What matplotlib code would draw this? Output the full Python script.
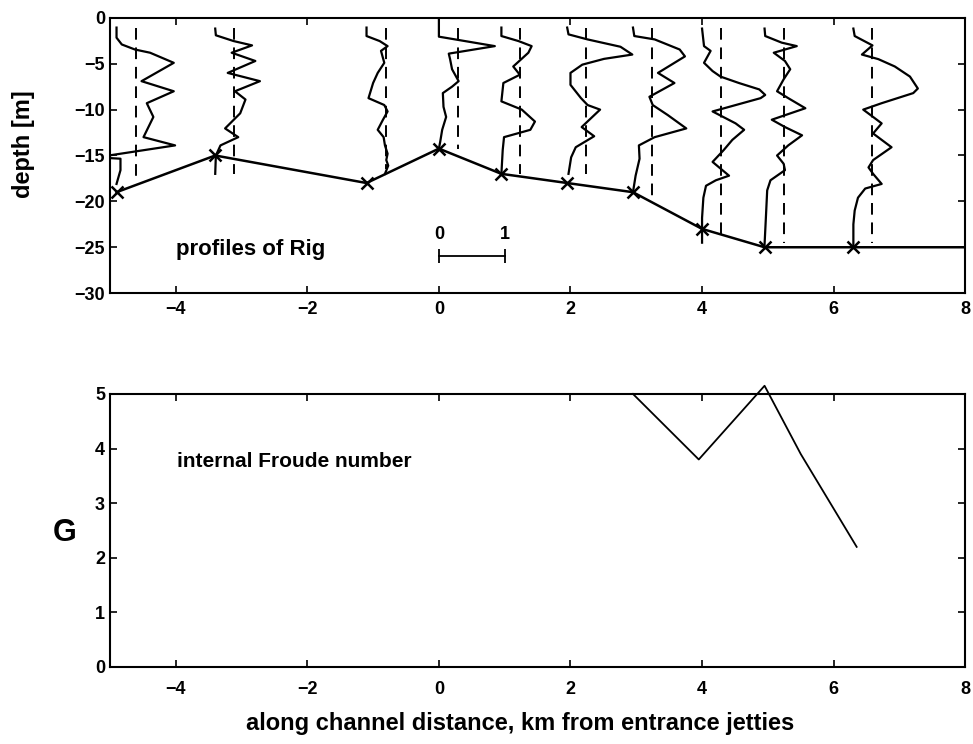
import numpy as np
import matplotlib
matplotlib.use('Agg')
import matplotlib.pyplot as plt

plt.rcParams['font.family'] = ['Liberation Sans', 'DejaVu Sans']
plt.rcParams['font.weight'] = 'bold'
plt.rcParams['axes.labelweight'] = 'bold'

# station positions (km from entrance jetties) and bottom depth (m)
stations = [-4.9, -3.4, -1.1, 0.0, 0.95, 1.95, 2.95, 4.0, 4.95, 6.3]
bottom = [-19, -15, -18, -14.25, -17, -18, -19, -23, -25, -25]
bottom_end_x = 8.0

# Rig profiles: depth (m) and Rig value, one pair per station
z1 = [-1.06, -2.16, -2.9, -3.45, -3.8, -4.9, -6.9, -8.0, -9.3, -10.8, -13.0, -13.9, -15.2, -15.35, -16.6, -18.1]
r1 = [0.0, 0.0, 0.08, 0.28, 0.51, 0.87, 0.38, 0.87, 0.46, 0.56, 0.41, 0.89, -0.3, 0.06, 0.06, 0.0]
z2 = [-1.17, -1.9, -2.53, -3.0, -3.8, -4.7, -6.0, -6.9, -8.0, -8.9, -10.4, -12.05, -13.0, -13.9, -15.0, -17.0]
r2 = [0.0, 0.01, 0.28, 0.56, 0.25, 0.61, 0.19, 0.68, 0.30, 0.46, 0.38, 0.15, 0.35, 0.08, 0.01, 0.0]
z3 = [-1.06, -1.98, -2.53, -3.08, -3.6, -4.9, -6.0, -7.1, -8.75, -9.5, -10.2, -11.1, -12.2, -13.0, -13.9, -14.8, -15.5, -16.1, -17.0]
r3 = [0.0, 0.0, 0.2, 0.32, 0.22, 0.27, 0.17, 0.10, 0.03, 0.27, 0.32, 0.25, 0.17, 0.26, 0.28, 0.32, 0.30, 0.33, 0.28]
z4 = [-0.15, -2.05, -3.08, -3.9, -4.5, -5.6, -6.9, -7.5, -8.2, -9.7, -10.8, -12.2, -13.5, -14.25]
r4 = [0.0, 0.0, 0.85, 0.15, 0.17, 0.2, 0.30, 0.2, 0.06, 0.07, 0.11, 0.05, 0.02, 0.0]
z5 = [-1.06, -1.98, -2.53, -3.08, -3.8, -5.3, -6.2, -7.1, -9.1, -10.0, -11.3, -12.2, -13.0, -14.4, -17.0]
r5 = [0.0, 0.0, 0.26, 0.46, 0.41, 0.18, 0.28, 0.03, 0.0, 0.31, 0.51, 0.44, 0.04, 0.02, 0.0]
z6 = [-1.06, -1.8, -2.35, -3.15, -4.0, -4.47, -5.1, -6.0, -7.3, -8.75, -9.5, -10.0, -11.9, -12.9, -14.1, -15.2, -17.0]
r6 = [0.0, 0.02, 0.31, 0.81, 0.99, 0.56, 0.23, 0.05, 0.05, 0.21, 0.31, 0.50, 0.22, 0.41, 0.13, 0.06, 0.02]
z7 = [-1.06, -1.98, -2.35, -3.45, -4.2, -6.0, -7.1, -8.6, -9.5, -10.6, -12.05, -13.0, -13.9, -15.35, -17.2, -19.0]
r7 = [0.0, 0.02, 0.33, 0.71, 0.79, 0.38, 0.63, 0.25, 0.30, 0.53, 0.81, 0.33, 0.09, 0.10, 0.04, 0.0]
z8 = [-1.17, -3.08, -3.6, -4.9, -5.8, -6.4, -7.1, -7.8, -8.4, -8.75, -10.2, -11.5, -12.2, -13.3, -14.4, -15.7, -16.3, -17.2, -17.7, -18.3, -19.6, -21.8, -24.5]
r8 = [0.0, 0.03, 0.13, 0.03, 0.16, 0.28, 0.56, 0.87, 0.96, 0.89, 0.16, 0.51, 0.64, 0.46, 0.33, 0.16, 0.26, 0.41, 0.21, 0.06, 0.02, 0.0, 0.0]
z9 = [-1.17, -1.98, -2.7, -3.08, -3.8, -4.7, -5.6, -6.7, -8.0, -8.75, -9.85, -11.1, -11.9, -12.8, -13.9, -15.0, -15.9, -16.6, -17.7, -18.8, -21.8, -24.7]
r9 = [0.0, 0.01, 0.26, 0.49, 0.14, 0.31, 0.39, 0.29, 0.19, 0.36, 0.62, 0.11, 0.31, 0.57, 0.36, 0.19, 0.29, 0.31, 0.09, 0.04, 0.02, 0.0]
z10 = [-1.17, -1.98, -3.0, -4.0, -4.5, -5.3, -6.4, -7.7, -8.2, -9.3, -10.0, -10.8, -11.5, -12.6, -14.1, -15.5, -16.3, -17.0, -18.1, -18.6, -19.6, -21.0, -22.5, -25.0]
r10 = [0.0, 0.02, 0.29, 0.13, 0.38, 0.63, 0.86, 0.98, 0.91, 0.43, 0.15, 0.30, 0.43, 0.30, 0.58, 0.30, 0.23, 0.30, 0.43, 0.18, 0.07, 0.02, 0.0, 0.0]

depths = [z1, z2, z3, z4, z5, z6, z7, z8, z9, z10]
rigs = [r1, r2, r3, r4, r5, r6, r7, r8, r9, r10]

# dashed reference line (Rig offset) and its vertical extent
rig_ref = 0.29
ref_top = -1.1
ref_bottom = [-17.7, -17.0, -16.5, -14.3, -17.0, -17.0, -19.6, -24.2, -24.5, -24.5]

# internal Froude number
g_x = [2.95, 3.95, 4.95, 5.5, 6.35]
g_val = [5.0, 3.8, 5.15, 3.9, 2.2]

fig = plt.figure(figsize=(9.73, 7.44), dpi=100)
ax1 = fig.add_axes([0.113, 0.606, 0.879, 0.370])
ax2 = fig.add_axes([0.113, 0.1035, 0.879, 0.367])

for ax in (ax1, ax2):
    ax.tick_params(direction='in', top=True, right=True, length=5, width=1.2,
                   labelsize=13)
    for s in ax.spines.values():
        s.set_linewidth(1.5)
    ax.set_xlim(-5, 8)
    ax.set_xticks([-4, -2, 0, 2, 4, 6, 8])
ax1.tick_params(axis='x', pad=6)
ax2.tick_params(axis='x', pad=10)

# top panel
for x0, z, r, zb in zip(stations, depths, rigs, ref_bottom):
    ax1.plot(x0 + np.array(r), z, color='k', lw=1.6)
    ax1.plot([x0 + rig_ref, x0 + rig_ref], [ref_top, zb], color='k', lw=1.4,
             dashes=(6, 4))

ax1.plot(stations + [bottom_end_x], bottom + [bottom[-1]], color='k', lw=1.8)
ax1.plot(stations, bottom, ls='none', marker='x', ms=9, mew=1.8, color='k')

# scale bar for Rig
ax1.plot([0, 1], [-26, -26], color='k', lw=1.3, marker='|', ms=10, mew=1.3)
ax1.text(0, -23.6, '0', ha='center', va='center', fontsize=13)
ax1.text(1, -23.6, '1', ha='center', va='center', fontsize=13)
ax1.text(-4.0, -25.2, 'profiles of Rig', ha='left', va='center', fontsize=16)

ax1.set_ylim(-30, 0)
ax1.set_yticks([-30, -25, -20, -15, -10, -5, 0])
ax1.set_ylabel('depth [m]', fontsize=17)
ax1.yaxis.set_label_coords(-0.088, 0.54)

# bottom panel
ax2.plot(g_x, g_val, color='k', lw=1.3, clip_on=False)
ax2.set_ylim(0, 5)
ax2.set_yticks([0, 1, 2, 3, 4, 5])
ax2.text(-3.98, 3.77, 'internal Froude number', ha='left', va='center',
         fontsize=15)
ax2.set_ylabel('G', fontsize=22, rotation=0, va='center', ha='center')
ax2.yaxis.set_label_coords(-0.053, 0.49)
ax2.set_xlabel('along channel distance, km from entrance jetties', fontsize=17)
ax2.xaxis.set_label_coords(0.48, -0.165)

fig.savefig('out.png', dpi=100)
